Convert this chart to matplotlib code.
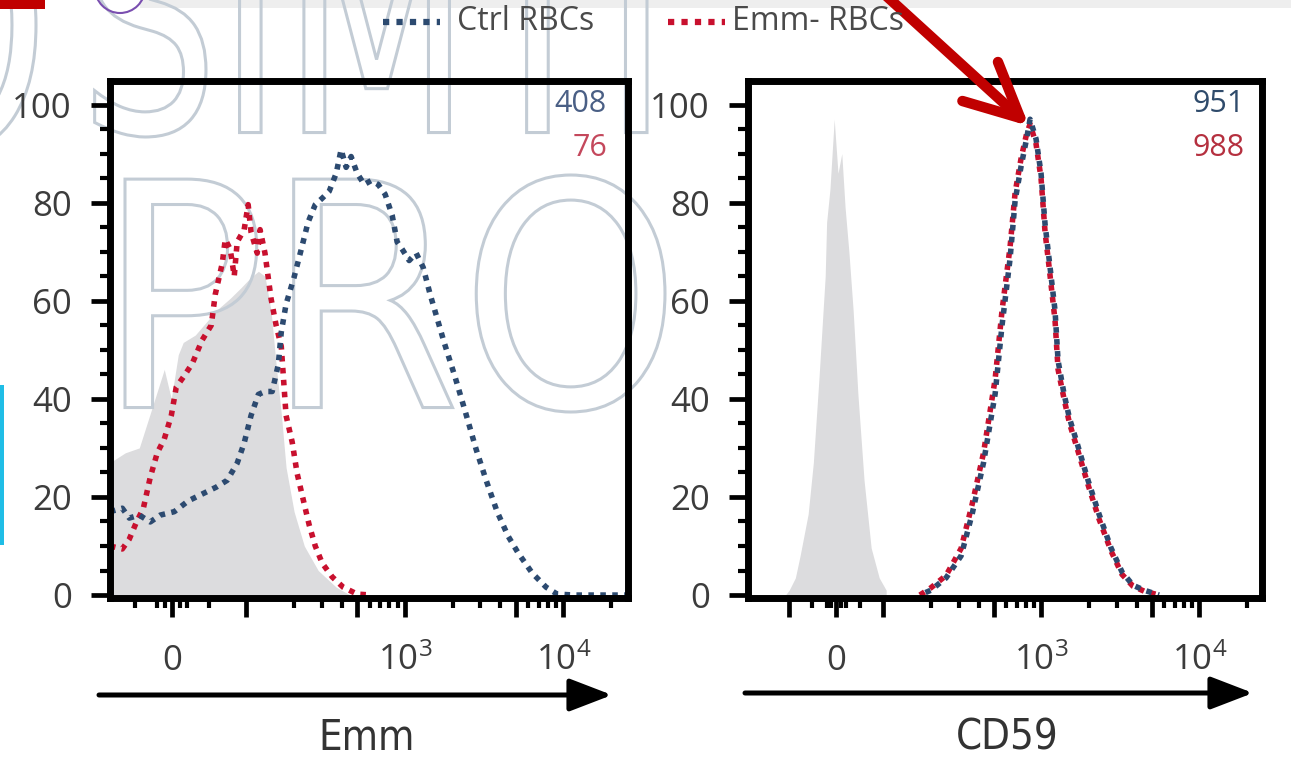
import matplotlib
matplotlib.use('Agg')
import matplotlib.pyplot as plt
from matplotlib.patches import FancyArrowPatch, PathPatch, Rectangle, Arc
from matplotlib.textpath import TextPath
from matplotlib.font_manager import FontProperties
from matplotlib.transforms import Affine2D
from matplotlib.lines import Line2D

plt.rcParams['font.family'] = ['Open Sans', 'DejaVu Sans']
plt.rcParams['mathtext.fontset'] = 'custom'
plt.rcParams['mathtext.rm'] = 'Open Sans'

# ---- data (x = fluorescence, y = % of max) ----
# Emm panel
emm_iso_x = [-84, -63.4, -44.5, -29.7, -10.8, -1.3, 8.1, 14.8, 31, 45.8, 59.3, 78.2, 93,
             107, 119, 131, 143, 154, 166, 178, 200, 232, 284, 369, 452]
emm_iso_y = [27, 29, 30, 37, 46, 40, 49, 51.5, 53, 55.6, 58, 60.5, 62.7,
             64.8, 66, 65, 58, 47, 37, 26, 17, 10, 5, 1.6, 0]

emm_red_x = [-84, -67.4, -58, -48.5, -39, -29.7, -20.2, -10.8, -1.3, 5.4, 14.8, 27, 40.4,
             52.6, 58, 67.4, 71.5, 78.2, 83.6, 87.6, 97, 102.6, 107, 117, 122, 131, 143,
             154, 166, 178, 194.5, 209, 232, 249, 272, 301, 348, 408, 500, 613]
emm_red_y = [10, 9.4, 11.4, 14.8, 17.7, 24, 29, 31.8, 36.6, 42.4, 44.4, 47.2, 52,
             55, 61.3, 67.6, 72.5, 70.5, 65, 72, 74.5, 79.6, 74, 69.7, 74.5, 69.7, 60.5,
             55, 50.7, 36.6, 31.2, 24.8, 18.5, 14.3, 10, 6.5, 3.7, 1.6, 0.2, 0]

emm_blue_x = [-84, -67.4, -58, -44.5, -29.7, -16.2, 2.7, 21.6, 40.4, 59.3, 74.1, 87.6, 97,
              107, 119, 131, 145.5, 159, 166, 178, 200, 222, 245, 272, 301, 333, 369, 396,
              426, 458, 500, 554, 613, 679, 751, 832, 894, 962, 1065, 1179, 1305, 1444,
              1599, 1770, 2077, 2401, 2818, 3258, 3822, 4485, 5185, 6357, 7790, 9140,
              11700, 25260]
emm_blue_y = [17, 17.7, 15.7, 16.3, 14.9, 16.3, 17, 19.2, 20.6, 22, 23.4, 26.9, 31,
              36.6, 40.9, 41.5, 41.5, 47, 53.6, 59.3, 64.8, 70.5, 76, 79.6, 80.9, 82.3, 86, 90.8,
              87.2, 89.4, 86, 83.7, 84.5, 83.7, 81.7, 77.4, 72, 70.5, 68.2, 69.7, 66.8, 61.3,
              56.4, 51.5, 44.4, 37.5, 29.7, 23.4, 17, 12, 8.6, 4.5, 1.6, 0.2,
              0, 0]

# CD59 panel
cd59_iso_x = [-105, -99, -86, -76, -59, -48, -36, -23, -20, -13, -4, 4, 12, 19, 27, 36, 46,
              59, 74, 91, 104]
cd59_iso_y = [0, 1, 3.5, 8, 16.5, 27, 44.4, 65, 76, 82.7, 97, 86, 90, 79, 70, 58, 41,
              23.4, 9.6, 3.5, 1]

cd59_x = [170, 200, 249, 310, 364, 430, 509, 563, 633, 681, 743, 805, 847, 924, 994, 1054,
          1117, 1219, 1274, 1390, 1506, 1680, 1972, 2315, 2757, 3237, 3799, 4461, 5550]
cd59_blue_y = [0, 1, 3.5, 8, 16.5, 27, 41, 55, 68.6, 80.4, 87.4, 93, 97, 93, 86, 75.6,
               68.6, 58, 47.8, 41, 36, 31, 23.4, 16.5, 9.6, 4.7, 2, 1, 0]
cd59_red_y = [0, 1.5, 4, 9.5, 18.5, 29, 44, 58, 71, 82, 89, 94, 96, 92, 85, 74,
              67, 56, 46, 40, 35, 30, 22.5, 15.5, 9, 4.2, 1.8, 0.8, 0]

series_names = ['Ctrl RBCs', 'Emm- RBCs']
mfi_emm = ['408', '76']
mfi_cd59 = ['951', '988']

BLUE = '#2c4a70'
RED = '#c8102e'
GRAY = '#dcdcde'
WM = '#c3ccd5'

W, H = 1291, 761
fig = plt.figure(figsize=(W / 100, H / 100), dpi=100)


def fx(px):
    return px / W


def fy(py):
    return 1 - py / H


def box(x0, y0, x1, y1):
    return [fx(x0), fy(y1), (x1 - x0) / W, (y1 - y0) / H]


ax1 = fig.add_axes(box(110, 81, 628, 598))
ax2 = fig.add_axes(box(748, 81, 1262, 598))

LW = 4.0
dots = (0, (1, 1.15))
dots_off = (1.05, (1, 1.15))


def setup(ax, linscale, xlim, majors, labels, minors):
    ax.set_xscale('symlog', linthresh=100, linscale=linscale)
    ax.set_xlim(*xlim)
    ax.set_ylim(-0.6, 104.8)
    ax.set_yticks(range(0, 101, 20))
    ax.set_yticks(range(0, 101, 5), minor=True)
    ax.set_xticks(majors)
    ax.set_xticklabels(labels)
    ax.set_xticks(minors, minor=True)
    for s in ax.spines.values():
        s.set_linewidth(5)
    ax.tick_params(which='major', direction='out', length=13.5, width=3.4,
                   labelsize=25, labelcolor='#3c3c3c')
    ax.tick_params(which='minor', direction='out', length=7, width=3)
    ax.tick_params(axis='y', which='major', pad=14)
    ax.tick_params(axis='x', which='major', pad=38)
    for t in ax.get_xticklabels():
        t.set_verticalalignment('baseline')


sup3 = r'$\mathregular{10^{3}}$'
sup4 = r'$\mathregular{10^{4}}$'
minor_common = [-50, -20, -10, 10, 20, 50, 200, 300, 400, 600, 700, 800, 900,
                2000, 3000, 4000, 6000, 7000, 8000, 9000, 20000]

# Emm panel
ax1.fill_between(emm_iso_x, emm_iso_y, 0, color=GRAY, lw=0, zorder=1)
ax1.plot(emm_red_x, emm_red_y, color=RED, lw=LW, ls=dots, zorder=2)
ax1.plot(emm_blue_x, emm_blue_y, color=BLUE, lw=LW, ls=dots, zorder=2.1)
setup(ax1, 0.421, (-84, 25600), [0, 100, 500, 1000, 5000, 10000],
      ['0', '', '', sup3, '', sup4], minor_common)

# CD59 panel
ax2.fill_between(cd59_iso_x, cd59_iso_y, 0, color=GRAY, lw=0, zorder=1)
ax2.plot(cd59_x, cd59_red_y, color=RED, lw=LW, ls=dots, zorder=2)
ax2.plot(cd59_x, cd59_blue_y, color=BLUE, lw=LW, ls=dots_off, zorder=2.1)
setup(ax2, 0.27, (-181, 24900), [-100, 0, 100, 500, 1000, 5000, 10000],
      ['', '0', '', '', sup3, '', sup4], minor_common)

# MFI numbers
num_colors = {'408': '#4a5f85', '76': '#c4485c', '951': '#2f4b6b', '988': '#b5303f'}
for x_right, vals in [(607, mfi_emm), (1245, mfi_cd59)]:
    for v, y in zip(vals, [104, 148]):
        fig.text(fx(x_right), fy(y), v, ha='right', va='center', fontsize=22,
                 color=num_colors[v])


# watermark (outlined letters)
def outline_text(s, x0, y0, x1, y1):
    tp = TextPath((0, 0), s, prop=FontProperties(family='DejaVu Sans'), size=100)
    bb = tp.get_extents()
    tr = (Affine2D().translate(-bb.x0, -bb.y0)
          .scale((x1 - x0) / bb.width / W, (y1 - y0) / bb.height / H)
          .translate(fx(x0), fy(y1)) + fig.transFigure)
    p = PathPatch(tp, transform=tr, fc='none', ec=WM, lw=2.2, zorder=1.5)
    ax1.add_artist(p)
    p.set_clip_on(False)


outline_text('SIMTI', 94, -100, 647, 137)
outline_text('PRO', 125, 175, 665, 412)
outline_text('O', -120, -100, 36, 150)

# legend
fig.add_artist(Line2D([fx(383), fx(440)], [fy(22)] * 2, color=BLUE, lw=4.5, ls=dots))
fig.text(fx(457), fy(22), series_names[0], ha='left', va='center', fontsize=23, color='#4a4a4a')
fig.add_artist(Line2D([fx(668), fx(725)], [fy(22)] * 2, color=RED, lw=4.5, ls=dots))
fig.text(fx(732), fy(22), series_names[1], ha='left', va='center', fontsize=23, color='#4a4a4a')

# axis arrows and titles
for x0, x1, y in [(99, 612, 695), (745, 1253, 693)]:
    fig.add_artist(FancyArrowPatch((fx(x0), fy(y)), (fx(x1), fy(y)), transform=fig.transFigure,
                                   arrowstyle='-|>,head_length=2.6,head_width=1.0',
                                   mutation_scale=10, lw=3.6, color='black',
                                   shrinkA=0, shrinkB=0))
fig.text(fx(367), fy(759), 'Emm', ha='center', va='bottom', fontsize=30,
         family='DejaVu Sans', fontstretch='condensed', color='#333333')
fig.text(fx(1007), fy(759), 'CD59', ha='center', va='bottom', fontsize=30,
         family='DejaVu Sans', fontstretch='condensed', color='#333333')

# red pointer arrow
fig.add_artist(FancyArrowPatch((fx(882), fy(-8)), (fx(1029), fy(126)), transform=fig.transFigure,
                               arrowstyle='->,head_length=3.9,head_width=1.9', mutation_scale=10,
                               lw=7.5, color='#c00000', shrinkA=0, shrinkB=0, capstyle='round'))

# cropped bits along the image edges
fig.add_artist(Rectangle((fx(140), fy(8)), (W - 140) / W, 8 / H, transform=fig.transFigure,
                         color='#eeeeee', lw=0, zorder=0))
fig.add_artist(Rectangle((0, fy(9)), 45 / W, 9 / H, transform=fig.transFigure,
                         color='#c00000', lw=0))
fig.add_artist(Arc((fx(120), fy(-12)), 50 / W, 50 / H, theta1=180, theta2=360,
                   transform=fig.transFigure, color='#7a4fb0', lw=1.5))
fig.add_artist(Rectangle((0, fy(545)), 4 / W, 160 / H, transform=fig.transFigure,
                         color='#1fbde6', lw=0))

fig.savefig('out.png', dpi=100)
